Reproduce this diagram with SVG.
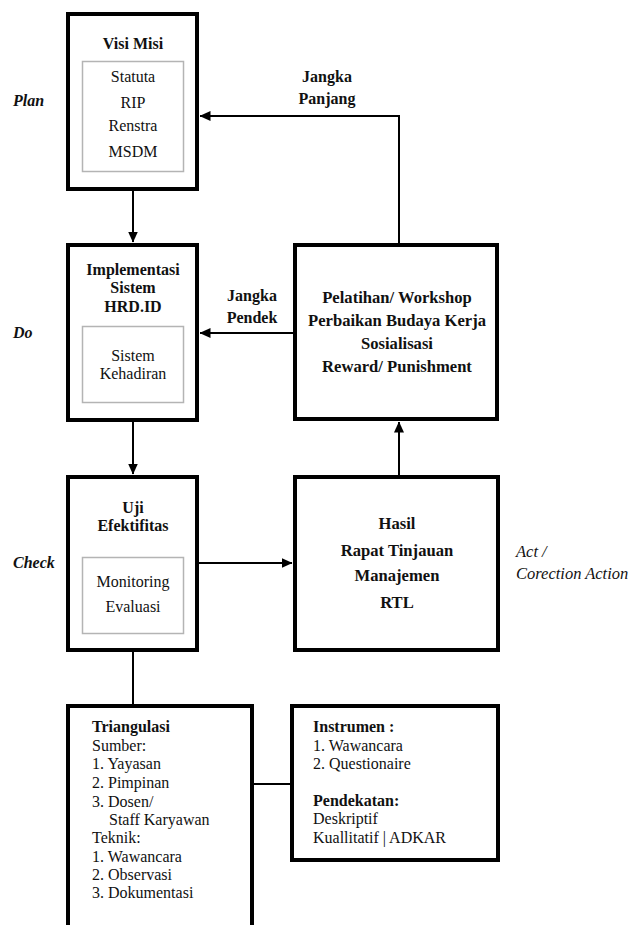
<svg xmlns="http://www.w3.org/2000/svg" width="634" height="925" viewBox="0 0 634 925">
<defs>
<marker id="arr" markerUnits="userSpaceOnUse" markerWidth="11" markerHeight="10" refX="10.5" refY="5" orient="auto">
<path d="M0,0 L11,5 L0,10 z" fill="#000"/>
</marker>
<style>
.box{fill:#fff;stroke:#000;stroke-width:4}
.inner{fill:#fff;stroke:#b4b4b4;stroke-width:1.5}
.conn{fill:none;stroke:#000;stroke-width:2}
text{font-family:"Liberation Serif","Times New Roman",serif;font-size:16px;fill:#111}
.b{font-weight:bold}
.t{font-size:16.6px}
.c{text-anchor:middle}
.phase{font-style:italic;font-weight:bold}
.act{font-style:italic;font-size:16.5px}
</style>
</defs>
<rect width="634" height="925" fill="#fff"/>
<g id="connectors">
<path class="conn" d="M133,191 V242" marker-end="url(#arr)"/>
<path class="conn" d="M133,422 V474" marker-end="url(#arr)"/>
<path class="conn" d="M199,563 H292" marker-end="url(#arr)"/>
<path class="conn" d="M399,475 V422" marker-end="url(#arr)"/>
<path class="conn" d="M293,333 H200" marker-end="url(#arr)"/>
<path class="conn" d="M399,243 V116 H200" marker-end="url(#arr)"/>
<path class="conn" d="M133,652 V704"/>
<path class="conn" d="M254,784 H290"/>
<text class="b c" x="327" y="82">Jangka</text>
<text class="b c" x="327" y="104">Panjang</text>
<text class="b c" x="252" y="301">Jangka</text>
<text class="b c" x="252" y="323">Pendek</text>
</g>
<g id="labels">
<text class="phase" x="13" y="106">Plan</text>
<text class="phase" x="13" y="338">Do</text>
<text class="phase" x="13" y="568">Check</text>
<text class="act" x="516" y="557">Act /</text>
<text class="act" x="516" y="579">Corection Action</text>
</g>
<g id="visi-misi">
<rect class="box" x="68" y="14" width="129" height="175"/>
<text class="b c" x="133" y="49">Visi Misi</text>
<rect class="inner" x="82.5" y="61.5" width="101" height="110"/>
<text class="c" x="133" y="82">Statuta</text>
<text class="c" x="133" y="108">RIP</text>
<text class="c" x="133" y="131">Renstra</text>
<text class="c" x="133" y="157">MSDM</text>
</g>
<g id="implementasi">
<rect class="box" x="68" y="245" width="129" height="175"/>
<text class="b c" x="133" y="275">Implementasi</text>
<text class="b c" x="133" y="293">Sistem</text>
<text class="b c" x="133" y="312">HRD.ID</text>
<rect class="inner" x="82.5" y="326.5" width="101" height="76"/>
<text class="c" x="133" y="361">Sistem</text>
<text class="c" x="133" y="379">Kehadiran</text>
</g>
<g id="uji">
<rect class="box" x="68" y="477" width="129" height="173"/>
<text class="b c" x="133" y="513">Uji</text>
<text class="b c" x="133" y="531">Efektifitas</text>
<rect class="inner" x="82.5" y="557.5" width="101" height="76"/>
<text class="c" x="133" y="587">Monitoring</text>
<text class="c" x="133" y="612">Evaluasi</text>
</g>
<g id="pelatihan">
<rect class="box" x="295" y="245" width="202" height="174"/>
<text class="b t c" x="397" y="303">Pelatihan/ Workshop</text>
<text class="b t c" x="397" y="326">Perbaikan Budaya Kerja</text>
<text class="b t c" x="397" y="349">Sosialisasi</text>
<text class="b t c" x="397" y="372">Reward/ Punishment</text>
</g>
<g id="hasil">
<rect class="box" x="295" y="477" width="203" height="173"/>
<text class="b t c" x="397" y="529">Hasil</text>
<text class="b t c" x="397" y="556">Rapat Tinjauan</text>
<text class="b t c" x="397" y="581">Manajemen</text>
<text class="b t c" x="397" y="608">RTL</text>
</g>
<g id="triangulasi">
<rect class="box" x="68" y="706" width="184" height="260"/>
<text class="b" x="92" y="732">Triangulasi</text>
<text x="92" y="751">Sumber:</text>
<text x="92" y="769">1. Yayasan</text>
<text x="92" y="788">2. Pimpinan</text>
<text x="92" y="807">3. Dosen/</text>
<text x="109" y="825">Staff Karyawan</text>
<text x="92" y="843">Teknik:</text>
<text x="92" y="862">1. Wawancara</text>
<text x="92" y="880">2. Observasi</text>
<text x="92" y="898">3. Dokumentasi</text>
</g>
<g id="instrumen">
<rect class="box" x="292" y="706" width="206" height="154"/>
<text class="b" x="313" y="732">Instrumen :</text>
<text x="313" y="751">1. Wawancara</text>
<text x="313" y="769">2. Questionaire</text>
<text class="b" x="313" y="806">Pendekatan:</text>
<text x="313" y="824">Deskriptif</text>
<text x="313" y="843">Kuallitatif | ADKAR</text>
</g>
</svg>
